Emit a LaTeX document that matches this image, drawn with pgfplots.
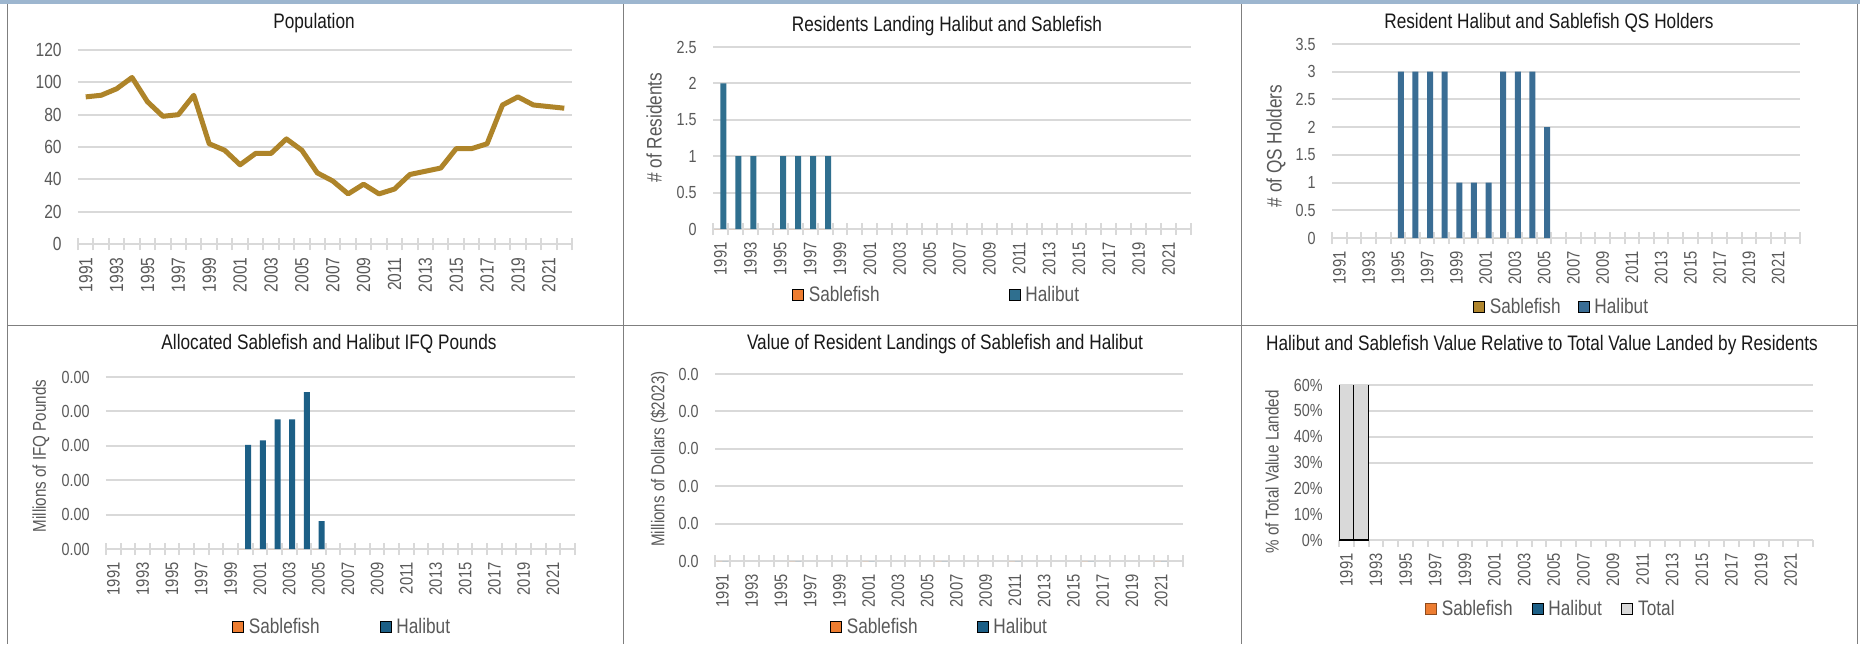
\documentclass[border=0pt]{standalone}
\usepackage{fontspec}
\setmainfont{Liberation Sans}[FakeStretch=0.82]
\usepackage{pgfplots}
\pgfplotsset{compat=1.18}

\definecolor{gold}{HTML}{AE8429}
\definecolor{sabgold}{HTML}{B0862E}
\definecolor{orng}{HTML}{ED7D31}
\definecolor{hal2}{HTML}{2F6F8F}
\definecolor{hal3}{HTML}{3A6D94}
\definecolor{hal4}{HTML}{1C5F86}
\definecolor{gridgray}{HTML}{D9D9D9}
\definecolor{tickgray}{HTML}{595959}
\definecolor{topblue}{HTML}{9DB6CF}
\definecolor{sepcol}{HTML}{7F7F7F}

\newcommand{\tickfont}{\fontsize{8.75}{10}\selectfont}
\newcommand{\xtickfont}{\fontsize{9}{10}\selectfont}
\newcommand{\bigtickfont}{\fontsize{9.5}{11}\selectfont}
\newcommand{\labfont}{\fontsize{10.5}{12}\selectfont}
\newcommand{\labfontb}{\fontsize{9.25}{11}\selectfont}
\newcommand{\legfont}{\fontsize{10.5}{12}\selectfont}
\newcommand{\titfont}{\fontsize{10.5}{12}\selectfont}

\pgfplotsset{
  xl/.style={
    scale only axis, anchor=south west,
    xmin=-0.5, xmax=31.5, ymin=0,
    axis lines*=left,
    x axis line style={draw=gridgray, line width=1pt},
    y axis line style={draw=none},
    xtick={0,2,...,30},
    xticklabels={1991,1993,1995,1997,1999,2001,2003,2005,2007,2009,2011,2013,2015,2017,2019,2021},
    minor xtick={-0.5,0.5,...,31.5},
    major tick length=0pt,
    minor tick length=6pt,
    tick align=center,
    minor tick style={draw=gridgray, line width=1pt},
    ymajorgrids, major grid style={draw=gridgray, line width=1pt},
    ytick style={draw=none},
    scaled y ticks=false,
    /pgf/number format/assume math mode=true,
    tick label style={font=\tickfont, text=tickgray},
    xticklabel style={yshift=-6.5pt, rotate=90, anchor=east, inner sep=0pt, font=\xtickfont},
    yticklabel style={inner sep=0pt, xshift=-8pt},
    every axis y label/.style={rotate=90, anchor=center, font=\labfont, text=tickgray},
    legend image code/.code={\draw[##1] (0pt,-2.75pt) rectangle (5.5pt,2.75pt);},
    legend style={draw=none, fill=none, inner sep=0pt, outer sep=0pt, column sep=2.5pt,
      font=\legfont, text=tickgray, anchor=west, nodes={inner sep=0pt, anchor=west}},
  },
  sab/.style={ybar, bar width=3pt, bar shift=-1.5pt, draw=none, fill=#1},
  hal/.style={ybar, bar width=3pt, bar shift=1.5pt, draw=none, fill=#1},
}

\begin{document}
\begin{tikzpicture}
\path[use as bounding box, fill=white] (0pt,0pt) rectangle (930pt,-322pt);
\fill[topblue] (0pt,0pt) rectangle (930pt,-2pt);
\draw[sepcol, line width=0.5pt] (3.5pt,-2pt) -- (3.5pt,-322pt);
\draw[sepcol, line width=0.5pt] (311.5pt,-2pt) -- (311.5pt,-322pt);
\draw[sepcol, line width=0.5pt] (620.5pt,-2pt) -- (620.5pt,-322pt);
\draw[sepcol, line width=0.5pt] (928.5pt,-2pt) -- (928.5pt,-322pt);
\draw[sepcol, line width=0.5pt] (3.5pt,-162.5pt) -- (928.5pt,-162.5pt);

% Panel 1: Population
\begin{axis}[xl, at={(39pt,-122pt)}, width=247pt, height=97pt,
  ymax=120, ytick={0,20,...,120},
  yticklabel style={font=\bigtickfont},
  xticklabel style={font=\bigtickfont}]
\addplot[gold, line width=2.5pt, line join=round, mark=none] coordinates {
(0,91) (1,92) (2,96) (3,103) (4,88) (5,79) (6,80) (7,92) (8,62) (9,58)
(10,49) (11,56) (12,56) (13,65) (14,58) (15,44) (16,39) (17,31) (18,37) (19,31)
(20,34) (21,43) (22,45) (23,47) (24,59) (25,59) (26,62) (27,86) (28,91) (29,86)
(30,85) (31,84)};
\end{axis}
\node[font=\titfont, text=black!90] at (157pt,-11.75pt) {Population};

% Panel 2: Residents Landing
\begin{axis}[xl, at={(356.5pt,-114.5pt)}, width=239pt, height=91pt,
  ymax=2.5, ytick={0,0.5,...,2.5},
  ylabel={\# of Residents}, ylabel style={at={(axis description cs:-0.1234,0.5566)}},
  legend columns=2,
  legend style={at={(axis description cs:0.1653,-0.3626)}, /tikz/every even column/.append style={column sep=64.5pt}}]
\addplot[sab=orng] coordinates {(0,0) (1,0) (2,0) (4,0) (5,0) (6,0) (7,0)};
\addlegendentry{Sablefish}
\addplot[hal=hal2] coordinates {(0,2) (1,1) (2,1) (4,1) (5,1) (6,1) (7,1)};
\addlegendentry{Halibut}
\end{axis}
\node[font=\titfont, text=black!90] at (473.5pt,-13pt) {Residents Landing Halibut and Sablefish};

% Panel 3: QS Holders
\begin{axis}[xl, at={(666pt,-119pt)}, width=234pt, height=97pt,
  ymax=3.5, ytick={0,0.5,...,3.5},
  ylabel={\# of QS Holders}, ylabel style={at={(axis description cs:-0.1197,0.4742)}},
  legend columns=2,
  legend style={at={(axis description cs:0.3013,-0.3557)}, /tikz/every even column/.append style={column sep=8.5pt}}]
\addplot[sab=sabgold] coordinates {(4,0) (5,0) (6,0) (7,0) (8,0) (9,0) (10,0) (11,0) (12,0) (13,0) (14,0)};
\addlegendentry{Sablefish}
\addplot[hal=hal3] coordinates {(4,3) (5,3) (6,3) (7,3) (8,1) (9,1) (10,1) (11,3) (12,3) (13,3) (14,2)};
\addlegendentry{Halibut}
\end{axis}
\node[font=\titfont, text=black!90] at (774.5pt,-11.5pt) {Resident Halibut and Sablefish QS Holders};

% Panel 4: IFQ pounds
\begin{axis}[xl, at={(53pt,-274.5pt)}, width=234.5pt, height=86pt,
  ymax=0.005, ytick={0,0.001,0.002,0.003,0.004,0.005},
  yticklabels={0.00,0.00,0.00,0.00,0.00,0.00},
  ylabel={Millions of IFQ Pounds}, ylabel style={font=\labfontb, at={(axis description cs:-0.1386,0.5407)}},
  legend columns=2,
  legend style={at={(axis description cs:0.2687,-0.4535)}, /tikz/every even column/.append style={column sep=30pt}}]
\addplot[sab=orng] coordinates {(9,0) (10,0) (11,0) (12,0) (13,0) (14,0)};
\addlegendentry{Sablefish}
\addplot[hal=hal4] coordinates {(9,0.00303) (10,0.00316) (11,0.00377) (12,0.00377) (13,0.00456) (14,0.00081)};
\addlegendentry{Halibut}
\end{axis}
\node[font=\titfont, text=black!90] at (164.5pt,-172pt) {Allocated Sablefish and Halibut IFQ Pounds};

% Panel 5: Value of landings
\begin{axis}[xl, at={(357.5pt,-280.5pt)}, width=234pt, height=93.5pt,
  ymax=5, ytick={0,1,2,3,4,5}, yticklabels={0.0,0.0,0.0,0.0,0.0,0.0},
  ylabel={Millions of Dollars (\$2023)}, ylabel style={font=\labfontb, at={(axis description cs:-0.1186,0.5455)}},
  legend columns=2,
  legend style={at={(axis description cs:0.2457,-0.3529)}, /tikz/every even column/.append style={column sep=29.5pt}}]
\addplot[sab=orng] coordinates {(0,0) (5,0) (10,0) (15,0) (20,0) (25,0) (30,0)};
\addlegendentry{Sablefish}
\addplot[hal=hal4] coordinates {(0,0) (5,0) (10,0) (15,0) (20,0) (25,0) (30,0)};
\addlegendentry{Halibut}
\end{axis}
\node[font=\titfont, text=black!90] at (472.5pt,-172pt) {Value of Resident Landings of Sablefish and Halibut};

% Panel 6: Relative value
\begin{axis}[xl, at={(669.5pt,-270pt)}, width=237pt, height=77.5pt,
  ymax=0.6, ytick={0,0.1,0.2,0.3,0.4,0.5,0.6},
  yticklabels={0\%,10\%,20\%,30\%,40\%,50\%,60\%},
  ymajorgrids=false,
  extra y ticks={0.3,0.4,0.5,0.6}, extra y tick labels={},
  extra y tick style={ymajorgrids=true, major grid style={draw=gridgray, line width=1pt}},
  tick align=outside, minor tick length=3.3pt,
  ylabel={\% of Total Value Landed}, ylabel style={font=\labfontb, at={(axis description cs:-0.1414,0.4387)}},
  legend columns=3,
  legend style={at={(axis description cs:0.1814,-0.4452)}, /tikz/every even column/.append style={column sep=9.5pt}}]
\addplot[sab=orng, draw=orng!60!black, line width=0.4pt] coordinates {(0,0) (1,0)};
\addlegendentry{Sablefish}
\addplot[hal=hal4, draw=black, line width=0.4pt] coordinates {(0,0) (1,0)};
\addlegendentry{Halibut}
\addplot[ybar, bar width=1, bar shift=0pt, fill=gridgray, draw=black, line width=0.6pt] coordinates {(0,1) (1,1)};
\addlegendentry{Total}
\end{axis}
\node[font=\titfont, text=black!90] at (771pt,-172.5pt) {Halibut and Sablefish Value Relative to Total Value Landed by Residents};
\end{tikzpicture}
\end{document}
